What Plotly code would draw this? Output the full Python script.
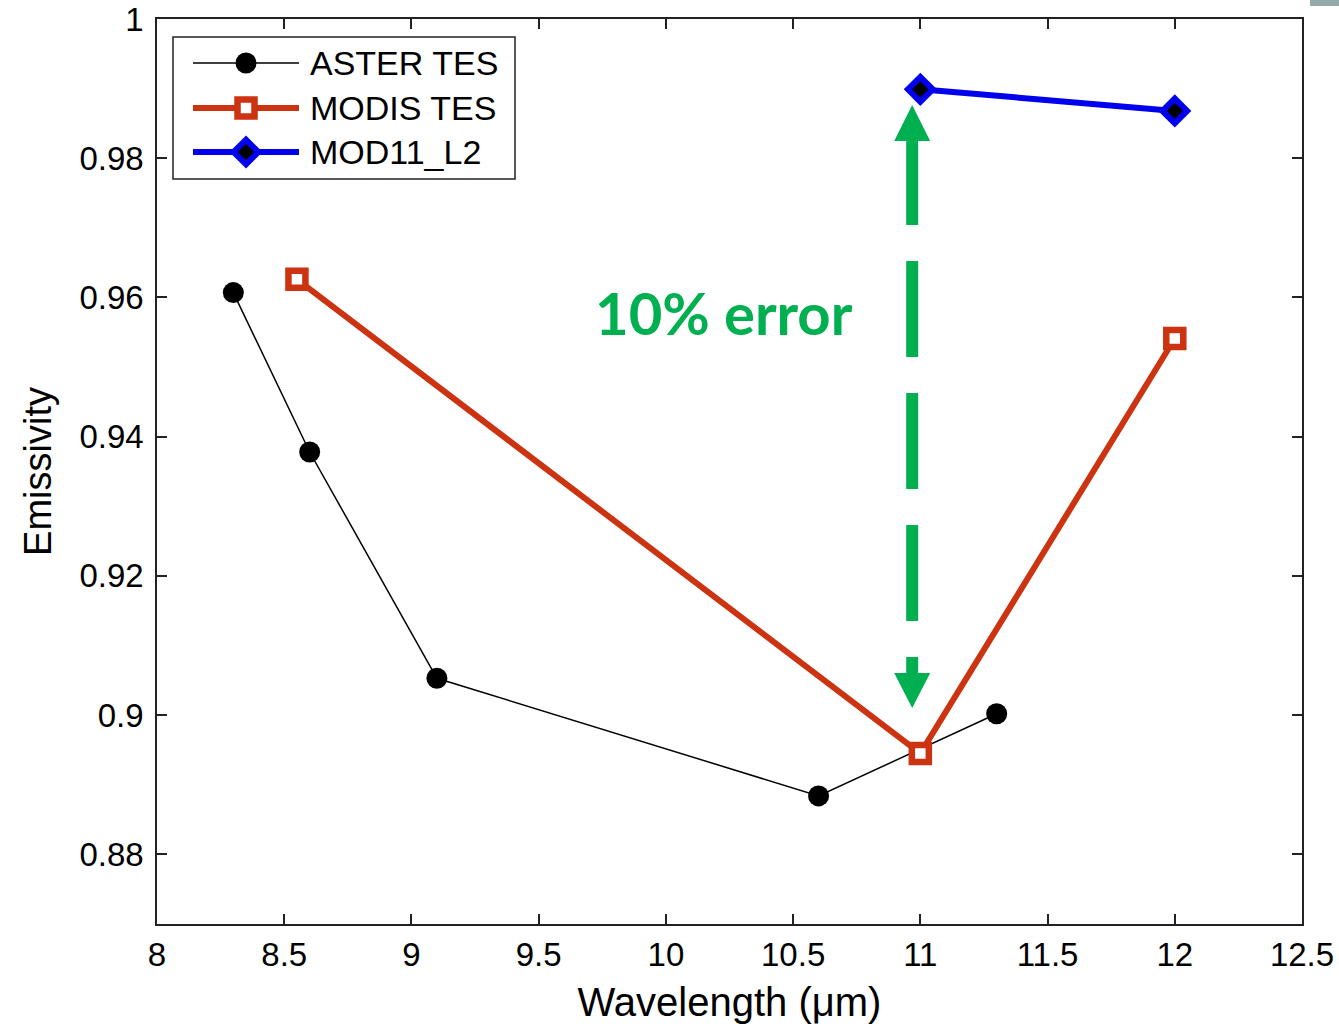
import plotly.graph_objects as go

# ---- data ----
aster_wl = [8.3, 8.6, 9.1, 10.6, 11.3]
aster_em = [0.9607, 0.9378, 0.9053, 0.8884, 0.9002]

modis_wl = [8.55, 11.0, 12.0]
modis_em = [0.9626, 0.8945, 0.9541]

mod11_wl = [11.0, 12.0]
mod11_em = [0.9899, 0.9868]

series_names = ["ASTER TES", "MODIS TES", "MOD11_L2"]

x_ticks = [8, 8.5, 9, 9.5, 10, 10.5, 11, 11.5, 12, 12.5]
x_ticklabels = ["8", "8.5", "9", "9.5", "10", "10.5", "11", "11.5", "12", "12.5"]
y_ticks = [0.88, 0.90, 0.92, 0.94, 0.96, 0.98, 1.00]
y_ticklabels = ["0.88", "0.9", "0.92", "0.94", "0.96", "0.98", "1"]

annot_text = "10% error"

# ---- styles ----
FONT = "Liberation Sans, Arial, sans-serif"
BLACK = "#000000"
RED = "#CC3311"
BLUE = "#0000EE"
GREEN = "#00B050"

aster_line = dict(color=BLACK, width=1.5)
aster_marker = dict(symbol="circle", size=21, color=BLACK)
modis_line = dict(color=RED, width=6)
modis_marker = dict(symbol="square", size=17, color="white", line=dict(color=RED, width=6.5))
mod11_line = dict(color=BLUE, width=6)
mod11_marker = dict(symbol="diamond", size=19, color=BLACK, line=dict(color=BLUE, width=6))

fig = go.Figure()

fig.add_trace(go.Scatter(x=aster_wl, y=aster_em, mode="lines+markers", name=series_names[0],
                         line=aster_line, marker=aster_marker, showlegend=False))
fig.add_trace(go.Scatter(x=modis_wl, y=modis_em, mode="lines+markers", name=series_names[1],
                         line=modis_line, marker=modis_marker, showlegend=False))
fig.add_trace(go.Scatter(x=mod11_wl, y=mod11_em, mode="lines+markers", name=series_names[2],
                         line=mod11_line, marker=mod11_marker, showlegend=False))

# ---- legend drawn on a pixel-scaled overlay axis ----
leg_rows = [63, 108, 152]
leg_styles = [(aster_line, aster_marker), (modis_line, modis_marker), (mod11_line, mod11_marker)]
shapes = [dict(type="rect", xref="x2", yref="y2", x0=173, x1=515, y0=37, y1=179,
               line=dict(color="#222222", width=1.5), fillcolor="white", layer="below")]
for row, (ln, mk), name in zip(leg_rows, leg_styles, series_names):
    fig.add_trace(go.Scatter(x=[193, 299], y=[row, row], mode="lines",
                             xaxis="x2", yaxis="y2", line=ln, showlegend=False, hoverinfo="skip"))
    fig.add_trace(go.Scatter(x=[246], y=[row], mode="markers",
                             xaxis="x2", yaxis="y2", marker=mk, showlegend=False, hoverinfo="skip"))
    fig.add_annotation(x=308, y=row, xref="x2", yref="y2", text=name, showarrow=False,
                       xanchor="left", yanchor="middle",
                       font=dict(family=FONT, size=34, color=BLACK))

# ---- dashed double arrow and its label ----
ax_x = 10.968
head_hw = 0.0708
top_tip, top_base = 0.98765, 0.98248
bot_tip, bot_base = 0.90103, 0.90606
shaft_top = 0.98420

shapes.append(dict(type="line", xref="x", yref="y", x0=ax_x, x1=ax_x,
                   y0=shaft_top, y1=bot_base,
                   line=dict(color=GREEN, width=12, dash="96px,36px")))
shapes.append(dict(type="path", xref="x", yref="y", fillcolor=GREEN, line=dict(width=0),
                   path=f"M {ax_x-head_hw},{top_base} L {ax_x},{top_tip} L {ax_x+head_hw},{top_base} Z"))
shapes.append(dict(type="path", xref="x", yref="y", fillcolor=GREEN, line=dict(width=0),
                   path=f"M {ax_x-head_hw},{bot_base} L {ax_x},{bot_tip} L {ax_x+head_hw},{bot_base} Z"))

fig.add_annotation(x=10.229, y=0.9578, xref="x", yref="y", text=f"<b>{annot_text}</b>",
                   showarrow=False, xanchor="center", yanchor="middle",
                   font=dict(family="Lato, Open Sans, sans-serif", size=58, color=GREEN))

# small grey block at the top-right corner of the canvas
shapes.append(dict(type="rect", xref="paper", yref="paper", x0=1.007, x1=1.04,
                   y0=1.0145, y1=1.03, fillcolor="#95A9A9", line=dict(width=0), layer="above"))

axis_common = dict(
    ticks="inside", ticklen=10, tickwidth=1.5, tickcolor="#222222",
    showline=True, linecolor="#222222", linewidth=1.5, mirror="ticks",
    showgrid=False, zeroline=False, automargin=False,
)

fig.update_layout(
    width=1339, height=1027,
    margin=dict(l=157, r=37, t=19, b=103, autoexpand=False),
    plot_bgcolor="white", paper_bgcolor="white",
    font=dict(family=FONT, color=BLACK),
    shapes=shapes,
    showlegend=False,
    xaxis=dict(
        range=[8, 12.5], tickvals=x_ticks, ticktext=x_ticklabels, **axis_common,
        tickfont=dict(family=FONT, size=33, color=BLACK), ticklabelstandoff=1,
        title=dict(text="Wavelength (μm)", font=dict(family=FONT, size=40, color=BLACK), standoff=16),
    ),
    yaxis=dict(
        range=[0.87, 1.0], tickvals=y_ticks, ticktext=y_ticklabels, **axis_common,
        tickfont=dict(family=FONT, size=33, color=BLACK), ticklabelstandoff=5,
        title=dict(text="Emissivity", font=dict(family=FONT, size=38, color=BLACK), standoff=16),
    ),
    xaxis2=dict(overlaying="x", range=[157, 1302], visible=False, fixedrange=True),
    yaxis2=dict(overlaying="y", range=[924, 19], visible=False, fixedrange=True),
)

fig.write_html("out.html")
